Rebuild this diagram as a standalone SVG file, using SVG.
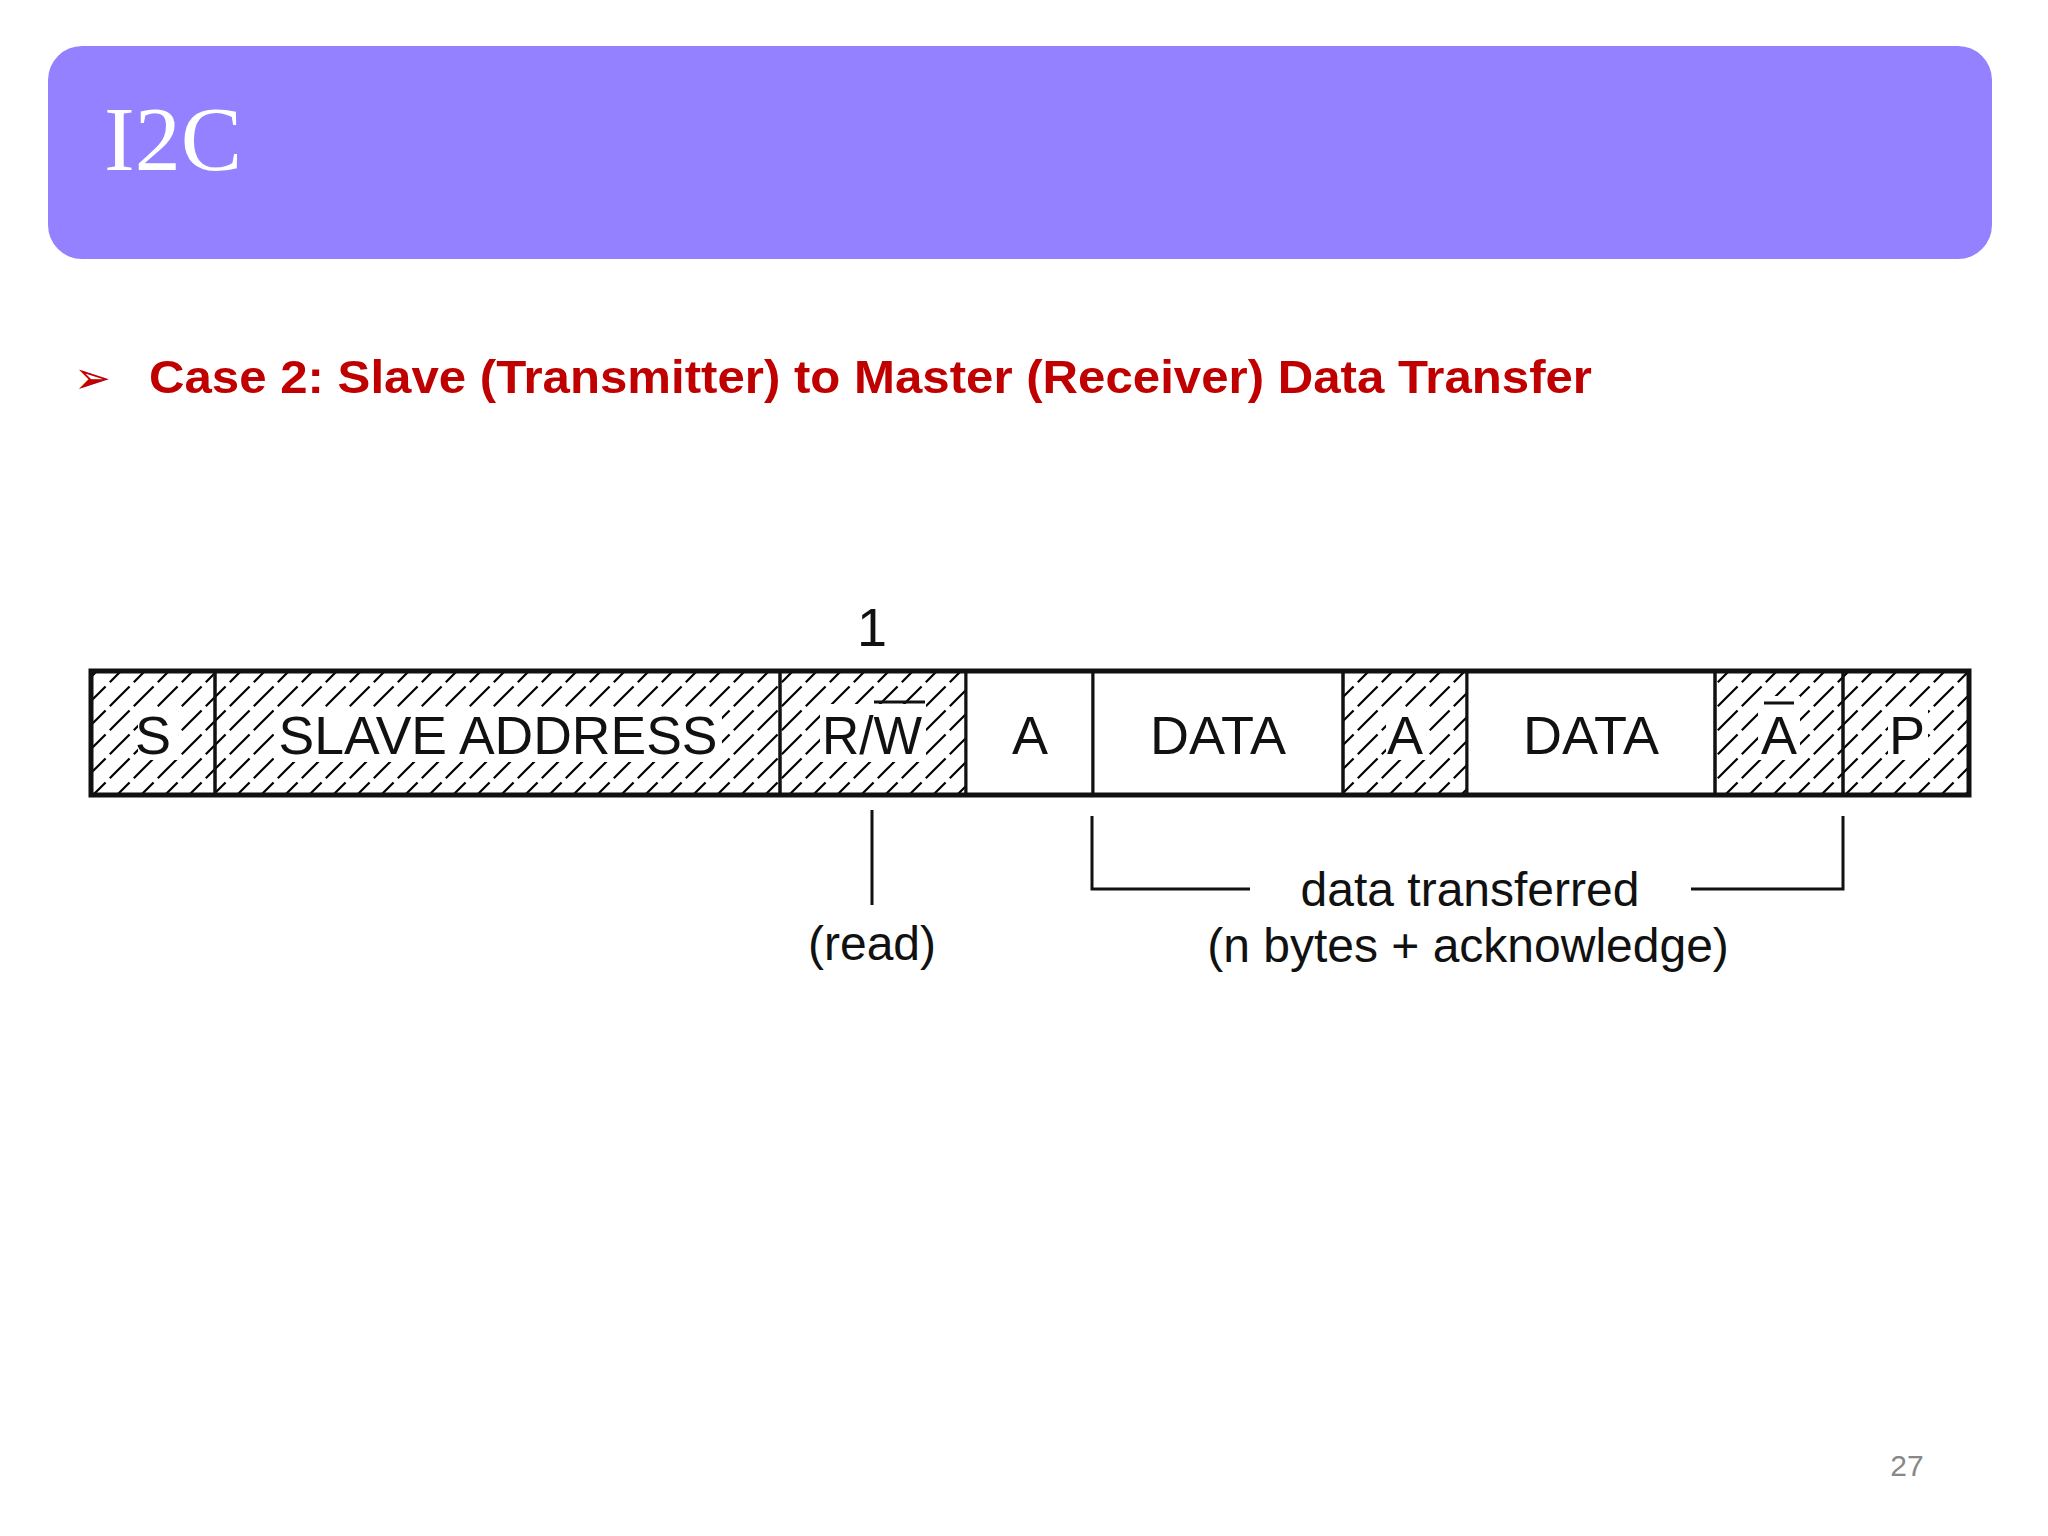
<svg xmlns="http://www.w3.org/2000/svg" width="2048" height="1536" viewBox="0 0 2048 1536">
<defs>
<pattern id="hatch" patternUnits="userSpaceOnUse" width="24" height="24">
<path d="M-6,30 L30,-6" stroke="#000" stroke-width="2.2" stroke-dasharray="22,6"/>
<path d="M-6,6 L6,-6 M18,30 L30,18" stroke="#000" stroke-width="2.2"/>
</pattern>
<style>
.lbl{font-family:"Liberation Sans",Arial,sans-serif;font-size:54px;fill:#111;text-anchor:middle}
.sub{font-family:"Liberation Sans",Arial,sans-serif;font-size:48px;fill:#111;text-anchor:middle}
.box{stroke:#111;stroke-width:3}
.ln{stroke:#111;stroke-width:3;fill:none}
</style>
</defs>
<rect width="2048" height="1536" fill="#fff"/>
<g id="header">
<rect x="48" y="46" width="1944" height="213" rx="34" fill="#9381FF"/>
<text x="104" y="170" font-family="Liberation Serif,serif" font-size="92" fill="#fff">I2C</text>
</g>
<g id="title">
<text x="74" y="393" font-family="DejaVu Sans,sans-serif" font-size="44" fill="#C00000">➢</text>
<text x="149" y="393" font-family="Liberation Sans,Arial,sans-serif" font-weight="bold" font-size="47" fill="#C00000" textLength="1443" lengthAdjust="spacingAndGlyphs">Case 2: Slave (Transmitter) to Master (Receiver) Data Transfer</text>
</g>
<g id="frame">
<rect class="box" x="91" y="671" width="124" height="124" fill="url(#hatch)"/>
<rect class="box" x="215" y="671" width="565" height="124" fill="url(#hatch)"/>
<rect class="box" x="780" y="671" width="186" height="124" fill="url(#hatch)"/>
<rect class="box" x="966" y="671" width="127" height="124" fill="#fff"/>
<rect class="box" x="1093" y="671" width="250" height="124" fill="#fff"/>
<rect class="box" x="1343" y="671" width="124" height="124" fill="url(#hatch)"/>
<rect class="box" x="1467" y="671" width="248" height="124" fill="#fff"/>
<rect class="box" x="1715" y="671" width="128" height="124" fill="url(#hatch)"/>
<rect class="box" x="1843" y="671" width="126" height="124" fill="url(#hatch)"/>
<rect x="91" y="671" width="1878" height="124" fill="none" stroke="#111" stroke-width="5"/>
</g>
<g id="labels">
<rect x="138" y="710" width="40" height="50" fill="#fff"/>
<text class="lbl" x="153" y="754">S</text>
<rect x="274" y="708" width="448" height="54" fill="#fff"/>
<text class="lbl" x="498" y="754" textLength="439" lengthAdjust="spacingAndGlyphs">SLAVE ADDRESS</text>
<rect x="820" y="704" width="106" height="58" fill="#fff"/>
<text class="lbl" x="872" y="754" textLength="100" lengthAdjust="spacingAndGlyphs">R/W</text>
<line x1="874" y1="702" x2="925" y2="702" stroke="#111" stroke-width="3"/>
<text class="lbl" x="1030" y="754">A</text>
<text class="lbl" x="1218" y="754">DATA</text>
<rect x="1386" y="710" width="40" height="50" fill="#fff"/>
<text class="lbl" x="1405" y="754">A</text>
<text class="lbl" x="1591" y="754">DATA</text>
<rect x="1758" y="696" width="42" height="64" fill="#fff"/>
<text class="lbl" x="1779" y="754">A</text>
<line x1="1764" y1="703" x2="1794" y2="703" stroke="#111" stroke-width="3"/>
<rect x="1888" y="710" width="40" height="50" fill="#fff"/>
<text class="lbl" x="1907" y="754">P</text>
<text class="lbl" x="872" y="646">1</text>
</g>
<g id="connectors">
<line class="ln" x1="872" y1="810" x2="872" y2="905"/>
<polyline class="ln" points="1092,816 1092,889 1250,889"/>
<polyline class="ln" points="1691,889 1843,889 1843,816"/>
</g>
<g id="notes">
<text class="sub" x="872" y="960">(read)</text>
<text class="sub" x="1470" y="906">data transferred</text>
<text class="sub" x="1468" y="962">(n bytes + acknowledge)</text>
</g>
<text x="1907" y="1476" font-family="Liberation Sans,Arial,sans-serif" font-size="30" fill="#888" text-anchor="middle">27</text>
</svg>
